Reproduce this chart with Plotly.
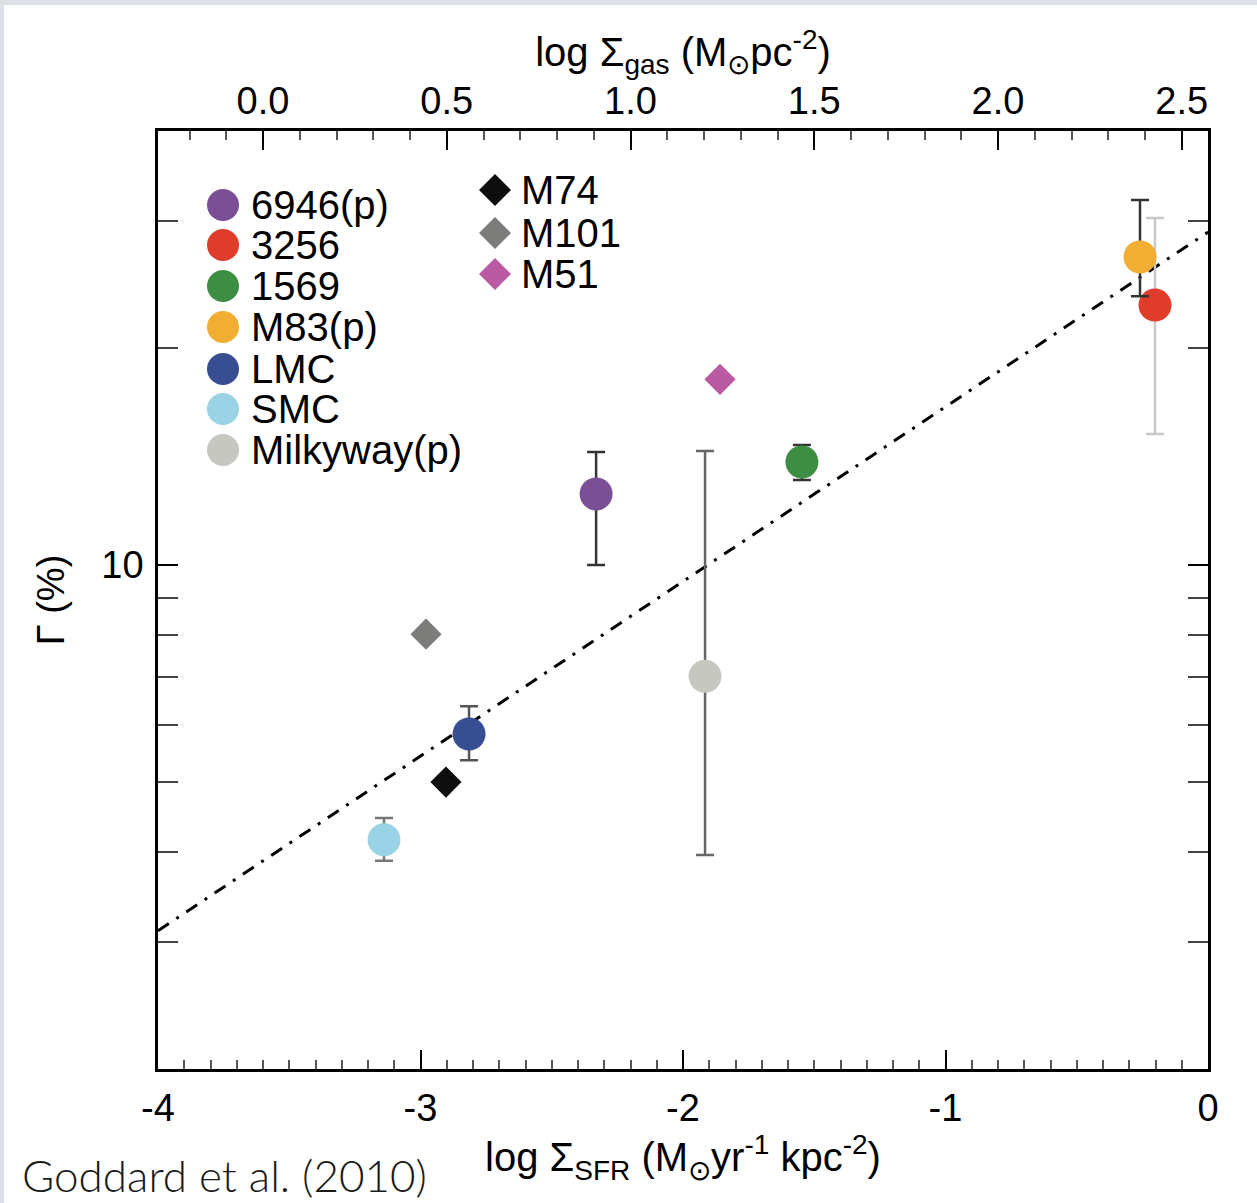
import math
import plotly.graph_objects as go

# ---------------- data ----------------
names = ["6946(p)", "3256", "1569", "M83(p)", "LMC", "SMC", "Milkyway(p)", "M74", "M101", "M51"]
log_sfr = [-2.331, -0.202, -1.547, -0.259, -2.815, -3.139, -1.916, -2.903, -2.979, -1.859]
gamma = [12.55, 22.94, 13.9, 26.75, 5.83, 4.16, 7.01, 5.0, 8.02, 18.1]
gamma_hi = [14.35, 30.3, 14.67, 32.1, 6.37, 4.46, 14.39, None, None, None]
gamma_lo = [10.0, 15.2, 13.12, 23.6, 5.36, 3.89, 3.96, None, None, None]

fit_log_sfr = [-4.0, 0.0]
fit_gamma = [3.11, 28.96]

x_tick_vals = [-4, -3, -2, -1, 0]
x_tick_text = ["-4", "-3", "-2", "-1", "0"]
gas_tick_vals = [0.0, 0.5, 1.0, 1.5, 2.0, 2.5]
gas_tick_text = ["0.0", "0.5", "1.0", "1.5", "2.0", "2.5"]
y_tick_vals = [10]
y_tick_text = ["10"]
y_minor_vals = [3, 4, 5, 6, 7, 8, 9, 20, 30]

# Kennicutt-Schmidt conversion between the two x axes
ks_offset = 3.6
ks_slope = 1.4

# ---------------- styles ----------------
colors = ["#7B4F96", "#E03C2C", "#3D8E43", "#F2AE33", "#374E93", "#9AD3E5",
          "#C6C7C0", "#0E0E0E", "#7C7D7A", "#BA5AA2"]
symbols = ["circle"] * 7 + ["diamond"] * 3
sizes = [33] * 7 + [24] * 3
err_colors = ["#333333", "#C8C8C8", "#333333", "#333333", "#555555", "#777777",
              "#666666", None, None, None]

W, H = 1257, 1203
ML, MR, MT, MB = 158, 49, 131, 134
PW = W - ML - MR
PH = H - MT - MB


def px2paper(px, py):
    return (px - ML) / PW, (H - MB - py) / PH


FONT = "Liberation Sans, Arial, Helvetica, sans-serif"

fig = go.Figure()

# fit line
fig.add_trace(go.Scatter(
    x=fit_log_sfr, y=fit_gamma, mode="lines",
    line=dict(color="black", width=3, dash="13px,9px,3px,9px"),
    showlegend=False, hoverinfo="skip"))

for i, n in enumerate(names):
    ey = None
    if gamma_hi[i] is not None:
        ey = dict(type="data", symmetric=False,
                  array=[gamma_hi[i] - gamma[i]],
                  arrayminus=[gamma[i] - gamma_lo[i]],
                  color=err_colors[i], thickness=2.5, width=9)
    fig.add_trace(go.Scatter(
        x=[log_sfr[i]], y=[gamma[i]], mode="markers", name=n,
        marker=dict(color=colors[i], symbol=symbols[i], size=sizes[i],
                    line=dict(width=0)),
        error_y=ey, showlegend=False))

# invisible trace tying the top (gas) axis to the data
fig.add_trace(go.Scatter(
    x=[(v + ks_offset) / ks_slope for v in log_sfr], y=gamma, xaxis="x2",
    mode="markers", marker=dict(opacity=0), showlegend=False, hoverinfo="skip"))

# ---------------- manual legend (large symbols as in the original) ----------------
leg_left_y = [205, 245, 286, 327, 369, 409, 450]
leg_right_y = [190, 233, 274]
shapes = []
annotations = []
for i, n in enumerate(names):
    if i < 7:
        mx, tx, yy = 223, 249, leg_left_y[i]
    else:
        mx, tx, yy = 495, 519, leg_right_y[i - 7]
    ax, ay = px2paper(mx, yy)
    txx, _ = px2paper(tx, yy)
    if symbols[i] == "circle":
        shapes.append(dict(type="circle", xref="paper", yref="paper",
                           xsizemode="pixel", ysizemode="pixel",
                           xanchor=ax, yanchor=ay, x0=-16, x1=16, y0=-16, y1=16,
                           fillcolor=colors[i], line=dict(width=0)))
    else:
        shapes.append(dict(type="path", xref="paper", yref="paper",
                           xsizemode="pixel", ysizemode="pixel",
                           xanchor=ax, yanchor=ay,
                           path="M-16,0 L0,16 L16,0 L0,-16 Z",
                           fillcolor=colors[i], line=dict(width=0)))
    annotations.append(dict(text=n, xref="paper", yref="paper", x=txx, y=ay,
                            xanchor="left", yanchor="middle", showarrow=False,
                            font=dict(family=FONT, size=40, color="black")))

# slide frame strips (top and left)
x0p, _ = px2paper(0, 0)
x1p, _ = px2paper(W, 0)
_, ytop = px2paper(0, 0)
_, ybot = px2paper(0, H)
_, y5 = px2paper(0, 5)
x4p, _ = px2paper(4, 0)
shapes.append(dict(type="rect", xref="paper", yref="paper", x0=x0p, x1=x1p, y0=y5, y1=ytop,
                   fillcolor="#DDE1E6", line=dict(width=0), layer="below"))
shapes.append(dict(type="rect", xref="paper", yref="paper", x0=x0p, x1=x4p, y0=ybot, y1=ytop,
                   fillcolor="#DDE1E6", line=dict(width=0), layer="below"))

# citation
cx, cy = px2paper(20, 1175)
annotations.append(dict(text="Goddard et al. (2010)", xref="paper", yref="paper",
                        x=cx, y=cy, xanchor="left", yanchor="middle", showarrow=False,
                        font=dict(family="Lato, Open Sans, sans-serif", size=44,
                                  color="#1a1a1a", weight=300)))

fig.update_layout(
    width=W, height=H,
    margin=dict(l=ML, r=MR, t=MT, b=MB, autoexpand=False),
    paper_bgcolor="white", plot_bgcolor="white",
    font=dict(family=FONT, color="black"),
    shapes=shapes, annotations=annotations,
    showlegend=False,
    xaxis=dict(
        range=[-4, 0], tickvals=x_tick_vals, ticktext=x_tick_text,
        ticks="inside", ticklen=19, tickwidth=2, tickcolor="black",
        minor=dict(dtick=0.1, ticks="inside", ticklen=9, tickwidth=1.5, tickcolor="#555"),
        showline=True, linewidth=2.5, linecolor="black", mirror=True,
        showgrid=False, zeroline=False,
        tickfont=dict(size=38), ticklabelstandoff=4,
        title=dict(text="log Σ<sub>SFR</sub> (M<sub>⊙</sub>yr<sup>-1</sup> kpc<sup>-2</sup>)",
                   font=dict(size=40), standoff=6),
    ),
    xaxis2=dict(
        overlaying="x", side="top", anchor="y",
        range=[(-4 + ks_offset) / ks_slope, (0 + ks_offset) / ks_slope],
        tickvals=gas_tick_vals, ticktext=gas_tick_text,
        ticks="inside", ticklen=19, tickwidth=2, tickcolor="black",
        minor=dict(dtick=0.1, ticks="inside", ticklen=9, tickwidth=1.5, tickcolor="#555"),
        showline=False, showgrid=False, zeroline=False,
        tickfont=dict(size=38), ticklabelstandoff=8,
        title=dict(text="log Σ<sub>gas</sub> (M<sub>⊙</sub>pc<sup>-2</sup>)",
                   font=dict(size=40), standoff=0),
    ),
    yaxis=dict(
        type="log", range=[math.log10(2), math.log10(40)],
        tickvals=y_tick_vals, ticktext=y_tick_text,
        ticks="inside", ticklen=20, tickwidth=2, tickcolor="black",
        minor=dict(tickvals=y_minor_vals, ticks="inside", ticklen=11, tickwidth=2, tickcolor="#444"),
        showline=True, linewidth=2.5, linecolor="black", mirror="allticks",
        showgrid=False, zeroline=False,
        tickfont=dict(size=38), ticklabelstandoff=4,
        title=dict(text="Γ (%)", font=dict(size=38), standoff=26),
    ),
)

fig.write_html("out.html")
